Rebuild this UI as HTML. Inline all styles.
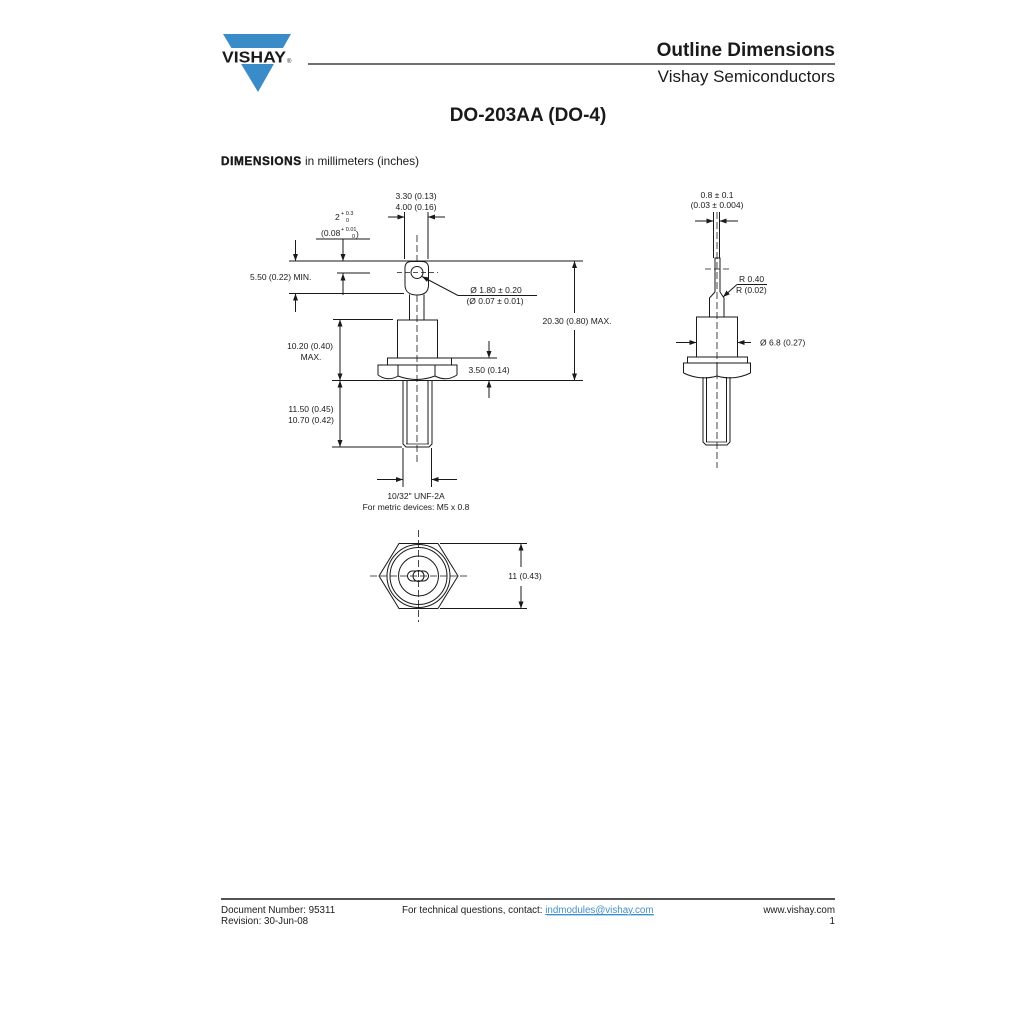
<!DOCTYPE html>
<html><head><meta charset="utf-8"><style>
html,body{margin:0;padding:0;background:#fff;}
svg{display:block;}
text{font-family:"Liberation Sans",Arial,sans-serif;fill:#1a1a1a;}
</style></head><body>
<svg width="1024" height="1024" viewBox="0 0 1024 1024" xmlns="http://www.w3.org/2000/svg">
<defs>
<marker id="a" markerUnits="userSpaceOnUse" markerWidth="8" markerHeight="6" refX="7" refY="2.5" orient="auto-start-reverse">
<path d="M0,0 L7,2.5 L0,5 z" fill="#1a1a1a"/>
</marker>
</defs>
<rect width="1024" height="1024" fill="#fff"/>

<!-- Logo -->
<polygon points="223,34 291,34 283,48 231.4,48" fill="#3a8cc9"/>
<polygon points="241.1,64 273.9,64 258,92" fill="#3a8cc9"/>
<text x="222" y="62.5" font-size="15.5" font-weight="bold" textLength="64" lengthAdjust="spacingAndGlyphs" fill="#333">VISHAY</text>
<text x="287" y="63" font-size="6" fill="#333">®</text>

<!-- Header -->
<text x="835" y="56" font-size="19" font-weight="bold" text-anchor="end">Outline Dimensions</text>
<line x1="308" y1="64" x2="835" y2="64" stroke="#1a1a1a" stroke-width="1.2"/>
<text x="835" y="82" font-size="17" text-anchor="end">Vishay Semiconductors</text>
<text x="528" y="121" font-size="19" font-weight="bold" text-anchor="middle">DO-203AA (DO-4)</text>
<text x="221" y="165" font-size="11.8"><tspan font-weight="bold" letter-spacing="0.6" stroke="#1a1a1a" stroke-width="0.4">DIMENSIONS</tspan> in millimeters (inches)</text>

<!-- Main view -->
<g stroke="#1a1a1a" stroke-width="1" fill="none">
  <!-- centerline -->
  <line x1="417" y1="235" x2="417" y2="463" stroke-dasharray="7,3" stroke-width="0.8"/>
  <!-- top / base lines -->
  <line x1="289" y1="261" x2="583" y2="261"/>
  <line x1="332" y1="380.5" x2="583" y2="380.5"/>
  <!-- 3.30 ext lines -->
  <line x1="404.5" y1="212" x2="404.5" y2="259"/>
  <line x1="428" y1="212" x2="428" y2="259"/>
  <line x1="388" y1="217" x2="404.5" y2="217" marker-end="url(#a)"/>
  <line x1="445" y1="217" x2="428" y2="217" marker-end="url(#a)"/>
  <!-- lug -->
  <path d="M405,285 L405,268 Q405,261.5 411.5,261.5 L422,261.5 Q428.5,261.5 428.5,268 L428.5,285 C428.5,292 424,295 417,295 C410,295 405,292 405,285 Z" fill="#fff"/>
  <circle cx="417" cy="272.5" r="6"/>
  <line x1="397" y1="272.5" x2="438" y2="272.5" stroke-dasharray="5,3" stroke-width="0.8"/>
  <!-- neck -->
  <line x1="409.5" y1="294.5" x2="409.5" y2="320"/>
  <line x1="424" y1="294.5" x2="424" y2="320"/>
  <!-- body -->
  <rect x="397.5" y="320" width="40" height="38"/>
  <rect x="387.5" y="358" width="64" height="7"/>
  <!-- hex -->
  <path d="M378,375 L378,365 L457,365 L457,375"/>
  <line x1="398" y1="365" x2="398" y2="376"/>
  <line x1="435" y1="365" x2="435" y2="376"/>
  <path d="M378,375 Q388,382 398,376 Q416.5,383 435,376 Q446,382 457,375"/>
  <!-- stud -->
  <path d="M403,380.5 L403,444 L406,447 L429,447 L432,444 L432,380.5"/>
  <line x1="407" y1="381" x2="407" y2="444"/>
  <line x1="428" y1="381" x2="428" y2="444"/>
  <line x1="406" y1="444" x2="429" y2="444" stroke-width="0.7"/>
  <!-- left dims -->
  <line x1="295.5" y1="240" x2="295.5" y2="261" marker-end="url(#a)"/>
  <line x1="289" y1="293.5" x2="404" y2="293.5"/>
  <line x1="295.5" y1="312" x2="295.5" y2="293.5" marker-end="url(#a)"/>
  <line x1="316" y1="239" x2="370" y2="239"/>
  <line x1="343" y1="239" x2="343" y2="261" marker-end="url(#a)"/>
  <line x1="337" y1="273" x2="370" y2="273"/>
  <line x1="343" y1="295" x2="343" y2="273.5" marker-end="url(#a)"/>
  <!-- hole leader -->
  <line x1="458" y1="295.5" x2="537" y2="295.5"/>
  <line x1="458" y1="295.5" x2="422" y2="276.5" marker-end="url(#a)"/>
  <!-- 20.30 -->
  <line x1="574.5" y1="313" x2="574.5" y2="261" marker-end="url(#a)"/>
  <line x1="574.5" y1="330" x2="574.5" y2="380.5" marker-end="url(#a)"/>
  <!-- 10.20 -->
  <line x1="333" y1="319.5" x2="393" y2="319.5"/>
  <line x1="340" y1="319.5" x2="340" y2="380.5" marker-start="url(#a)" marker-end="url(#a)"/>
  <!-- 3.50 -->
  <line x1="450" y1="358" x2="497" y2="358"/>
  <line x1="489" y1="341" x2="489" y2="358" marker-end="url(#a)"/>
  <line x1="489" y1="398" x2="489" y2="380.5" marker-end="url(#a)"/>
  <!-- 11.50 -->
  <line x1="332" y1="447" x2="402" y2="447"/>
  <line x1="340" y1="380.5" x2="340" y2="447" marker-start="url(#a)" marker-end="url(#a)"/>
  <!-- thread -->
  <line x1="403" y1="448" x2="403" y2="487"/>
  <line x1="431.5" y1="448" x2="431.5" y2="487"/>
  <line x1="377" y1="479.5" x2="403" y2="479.5" marker-end="url(#a)"/>
  <line x1="457" y1="479.5" x2="431.5" y2="479.5" marker-end="url(#a)"/>
</g>
<g font-size="8.5">
  <text x="416" y="199" text-anchor="middle">3.30 (0.13)</text>
  <text x="416" y="210" text-anchor="middle">4.00 (0.16)</text>
  <text x="335" y="220">2</text>
  <text x="341" y="215" font-size="5.5">+ 0.3</text>
  <text x="346" y="222" font-size="5.5">0</text>
  <text x="321" y="236">(0.08</text>
  <text x="341" y="231" font-size="5.5">+ 0.01</text>
  <text x="352" y="238" font-size="5.5">0</text>
  <text x="356" y="237">)</text>
  <text x="250" y="280">5.50 (0.22) MIN.</text>
  <text x="496" y="293" text-anchor="middle">Ø 1.80 ± 0.20</text>
  <text x="495" y="304" text-anchor="middle">(Ø 0.07 ± 0.01)</text>
  <text x="577" y="324" text-anchor="middle">20.30 (0.80) MAX.</text>
  <text x="310" y="349" text-anchor="middle">10.20 (0.40)</text>
  <text x="311" y="360" text-anchor="middle">MAX.</text>
  <text x="489" y="373" text-anchor="middle">3.50 (0.14)</text>
  <text x="311" y="412" text-anchor="middle">11.50 (0.45)</text>
  <text x="311" y="423" text-anchor="middle">10.70 (0.42)</text>
  <text x="416" y="499" text-anchor="middle">10/32" UNF-2A</text>
  <text x="416" y="510" text-anchor="middle">For metric devices: M5 x 0.8</text>
</g>

<!-- Side view -->
<g stroke="#1a1a1a" stroke-width="1" fill="none">
  <line x1="717" y1="212" x2="717" y2="468" stroke-dasharray="7,3" stroke-width="0.8"/>
  <line x1="713.5" y1="212" x2="713.5" y2="258"/>
  <line x1="719.5" y1="212" x2="719.5" y2="258"/>
  <path d="M715,292 L715,258 L720,258 L720,292"/>
  <line x1="705" y1="269" x2="730" y2="269" stroke-dasharray="6,3" stroke-width="0.8"/>
  <path d="M715,292 L709.5,298 L709.5,317"/>
  <path d="M720,292 L724,298 L724,317"/>
  <rect x="696.5" y="317" width="41" height="40"/>
  <rect x="687.5" y="357" width="60" height="6"/>
  <path d="M683.5,373 L683.5,363 L750.5,363 L750.5,373"/>
  <line x1="717" y1="363" x2="717" y2="376"/>
  <path d="M683.5,373 Q700,381 717,376 Q734,381 750.5,373"/>
  <path d="M703,377 L703,442 L706,445 L727,445 L730,442 L730,377"/>
  <line x1="706.5" y1="377" x2="706.5" y2="442"/>
  <line x1="726.5" y1="377" x2="726.5" y2="442"/>
  <line x1="706" y1="442" x2="727" y2="442" stroke-width="0.7"/>
  <line x1="695" y1="221" x2="713.5" y2="221" marker-end="url(#a)"/>
  <line x1="738" y1="221" x2="719.5" y2="221" marker-end="url(#a)"/>
  <line x1="737" y1="284.5" x2="767" y2="284.5"/>
  <line x1="737" y1="284.5" x2="723" y2="297" marker-end="url(#a)"/>
  <line x1="676" y1="342.5" x2="696.5" y2="342.5" marker-end="url(#a)"/>
  <line x1="751" y1="342.5" x2="737.5" y2="342.5" marker-end="url(#a)"/>
</g>
<g font-size="8.5">
  <text x="717" y="198" text-anchor="middle">0.8 ± 0.1</text>
  <text x="717" y="208" text-anchor="middle">(0.03 ± 0.004)</text>
  <text x="739" y="282">R 0.40</text>
  <text x="736" y="293">R (0.02)</text>
  <text x="760" y="345.5">Ø 6.8 (0.27)</text>
</g>

<!-- Bottom view -->
<g stroke="#1a1a1a" stroke-width="1" fill="none">
  <polygon points="379,576 399,543.5 438,543.5 458,576 438,608.5 399,608.5"/>
  <circle cx="418.5" cy="576" r="31.5"/>
  <circle cx="418.5" cy="576" r="28.5"/>
  <circle cx="418.5" cy="576" r="20"/>
  <rect x="407.5" y="571" width="21" height="10" rx="5"/>
  <circle cx="418.5" cy="576" r="5.5"/>
  <line x1="370" y1="576" x2="467" y2="576" stroke-dasharray="7,3" stroke-width="0.8"/>
  <line x1="418.5" y1="530" x2="418.5" y2="622" stroke-dasharray="7,3" stroke-width="0.8"/>
  <line x1="440" y1="543.5" x2="527" y2="543.5"/>
  <line x1="440" y1="608.5" x2="527" y2="608.5"/>
  <line x1="521" y1="567" x2="521" y2="543.5" marker-end="url(#a)"/>
  <line x1="521" y1="586" x2="521" y2="608.5" marker-end="url(#a)"/>
</g>
<text x="525" y="579" font-size="8.5" text-anchor="middle">11 (0.43)</text>

<!-- Footer -->
<line x1="221" y1="899" x2="835" y2="899" stroke="#1a1a1a" stroke-width="1.5"/>
<g font-size="9.8">
  <text x="221" y="913">Document Number: 95311</text>
  <text x="221" y="924">Revision: 30-Jun-08</text>
  <text x="402" y="913">For technical questions, contact: <tspan fill="#3f8fc8" text-decoration="underline">indmodules@vishay.com</tspan></text>
  <text x="835" y="913" text-anchor="end">www.vishay.com</text>
  <text x="835" y="924" text-anchor="end">1</text>
</g>
<line x1="547" y1="915" x2="654" y2="915" stroke="#3f8fc8" stroke-width="0.7"/>
</svg>
</body></html>
